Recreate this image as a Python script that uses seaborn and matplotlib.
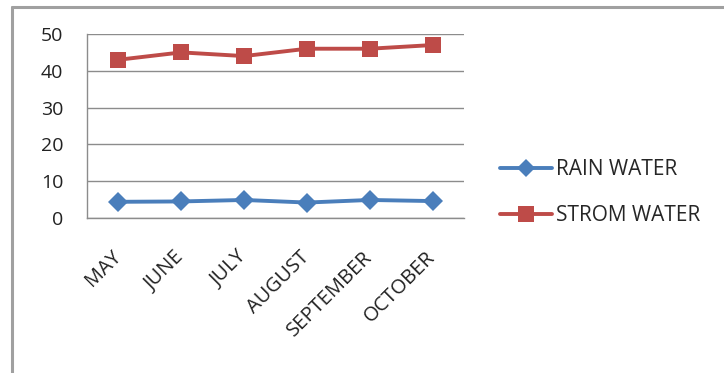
import matplotlib
matplotlib.use("Agg")
import matplotlib.pyplot as plt
from matplotlib.lines import Line2D
import seaborn as sns
import pandas as pd

months = ["MAY", "JUNE", "JULY", "AUGUST", "SEPTEMBER", "OCTOBER"]
rain_water = [4.4, 4.5, 4.9, 4.2, 4.9, 4.6]
strom_water = [43, 45, 44, 46, 46, 47]
y_ticks = [0, 10, 20, 30, 40, 50]

series_names = ["RAIN WATER", "STROM WATER"]
colors = {"RAIN WATER": "#4A7EBB", "STROM WATER": "#BE4B48"}
markers = {"RAIN WATER": "D", "STROM WATER": "s"}
marker_sizes = {"RAIN WATER": 10, "STROM WATER": 12}

df = pd.DataFrame({
    "month": months * 2,
    "pos": list(range(len(months))) * 2,
    "value": rain_water + strom_water,
    "series": ["RAIN WATER"] * len(months) + ["STROM WATER"] * len(months),
})

sns.set_style("white")
plt.rcParams["font.family"] = ["Open Sans", "DejaVu Sans"]

fig = plt.figure(figsize=(7.24, 3.73), dpi=100)
ax = fig.add_axes([87 / 724, 1 - 218 / 373, (464 - 87) / 724, (218 - 34) / 373])

for name in series_names:
    sns.lineplot(data=df[df["series"] == name], x="pos", y="value",
                 color=colors[name], marker=markers[name], ax=ax,
                 linewidth=2.8, markersize=marker_sizes[name],
                 markeredgewidth=0, legend=False)

ax.set_xlim(-0.5, len(months) - 0.5)
ax.set_ylim(0, 50)
ax.set_yticks(y_ticks)
ax.set_yticklabels([str(t) for t in y_ticks], fontsize=14, color="#222222")
ax.yaxis.grid(True, color="#8c8c8c", linewidth=1)
ax.set_axisbelow(True)

# category boundaries carry the tick marks, labels sit at category centres
ax.set_xticks([i - 0.5 for i in range(len(months) + 1)])
ax.set_xticklabels([])
ax.set_xticks(range(len(months)), minor=True)
ax.set_xticklabels(months, minor=True, rotation=45, ha="right", va="center",
                   rotation_mode="anchor", fontsize=14.5, color="#222222")
ax.tick_params(axis="x", which="major", length=5.5, width=1, color="#8c8c8c", direction="out")
ax.tick_params(axis="x", which="minor", length=0, pad=26)
ax.tick_params(axis="y", length=6, width=1, color="#8c8c8c", direction="out", pad=11)
ax.set_xlabel("")
ax.set_ylabel("")

for side in ["top", "right"]:
    ax.spines[side].set_visible(False)
for side in ["left", "bottom"]:
    ax.spines[side].set_color("#8c8c8c")
    ax.spines[side].set_linewidth(1)

handles = [Line2D([0], [0], color=colors[n], marker=markers[n],
                  markersize=marker_sizes[n] - 1, markeredgewidth=0, linewidth=2.8)
           for n in series_names]
fig.legend(handles, series_names, loc="center left", bbox_to_anchor=(500 / 724, 1 - 192.5 / 373),
           frameon=False, fontsize=15, handlelength=2.5, handletextpad=0.2,
           labelspacing=1.2, borderpad=0, borderaxespad=0)

# chart frame edges
fig.add_artist(Line2D([11.5 / 724, 11.5 / 724], [0, 1 - 6.5 / 373], transform=fig.transFigure,
                      color="#a0a0a0", linewidth=2.2))
fig.add_artist(Line2D([11.5 / 724, 1], [1 - 6.5 / 373, 1 - 6.5 / 373], transform=fig.transFigure,
                      color="#a0a0a0", linewidth=2.2))

fig.savefig("out.png", dpi=100)
